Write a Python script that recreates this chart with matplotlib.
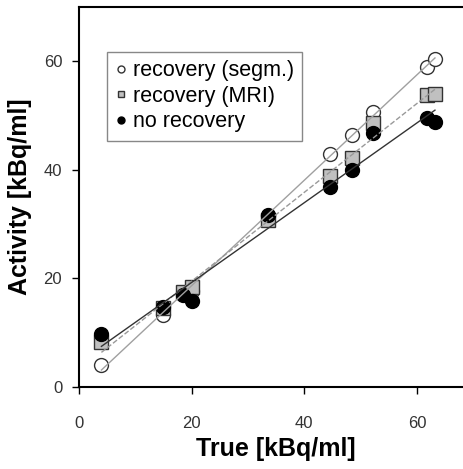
import numpy as np
import matplotlib
matplotlib.use("Agg")
import matplotlib.pyplot as plt

plt.rcParams['font.family'] = ['Liberation Sans', 'DejaVu Sans']

# true activity [kBq/ml]
true_act = [4.0, 15.0, 18.5, 20.1, 33.5, 44.5, 48.4, 52.2, 61.8, 63.2]
# measured activity for the three corrections
rec_segm = [4.1, 13.3, 17.3, 17.6, 31.5, 42.9, 46.4, 50.6, 58.9, 60.5]
rec_mri = [8.2, 14.6, 17.4, 18.4, 30.8, 38.8, 42.1, 48.6, 53.8, 54.0]
no_rec = [9.7, 14.7, 17.0, 15.9, 31.7, 36.9, 39.9, 46.8, 49.5, 48.8]

fig = plt.figure(figsize=(4.64, 4.69), dpi=100)
ax = fig.add_axes([0.170, 0.175, 0.850, 0.810])

x = np.array(true_act)
xs = np.array([x.min(), x.max()])


def fit(y):
    k, b = np.polyfit(x, np.array(y), 1)
    return k * xs + b


ax.plot(x, rec_segm, 'o', ms=10, mfc='white', mec='#333333', mew=1.0,
        zorder=2, label='recovery (segm.)')
ax.plot(x, rec_mri, 's', ms=9.5, mfc='#c0c0c0', mec='#333333', mew=1.0,
        zorder=3, label='recovery (MRI)')
ax.plot(x, no_rec, 'o', ms=10, mfc='black', mec='black', mew=1.0,
        zorder=4, label='no recovery')

ax.plot(xs, fit(rec_segm), '-', color='#a0a0a0', lw=1.0, zorder=5)
ax.plot(xs, fit(rec_mri), '--', color='#999999', lw=1.0, zorder=5)
ax.plot(xs, fit(no_rec), '-', color='#333333', lw=1.0, zorder=5)

ax.set_xlim(0, 70)
ax.set_ylim(0, 70)
ax.set_xticks([0, 20, 40, 60])
ax.set_yticks([0, 20, 40, 60])
for s in ax.spines.values():
    s.set_linewidth(1.5)
ax.tick_params(axis='both', direction='out', length=5, width=1,
               labelsize=12, labelcolor='#333333')
ax.tick_params(axis='x', pad=16)
ax.tick_params(axis='y', pad=7)

ax.set_xlabel('True [kBq/ml]', fontsize=18, fontweight='bold', labelpad=4)
ax.set_ylabel('Activity [kBq/ml]', fontsize=18, fontweight='bold', labelpad=8)

leg = ax.legend(loc='upper left', bbox_to_anchor=(0.071, 0.882),
                fontsize=15.5, handlelength=0.5, handletextpad=0.3,
                markerscale=0.5, borderpad=0.4, labelspacing=0.2,
                fancybox=False, framealpha=1, edgecolor='#888888',
                borderaxespad=0)
leg.get_frame().set_linewidth(1.0)

fig.savefig('out.png', dpi=100)
